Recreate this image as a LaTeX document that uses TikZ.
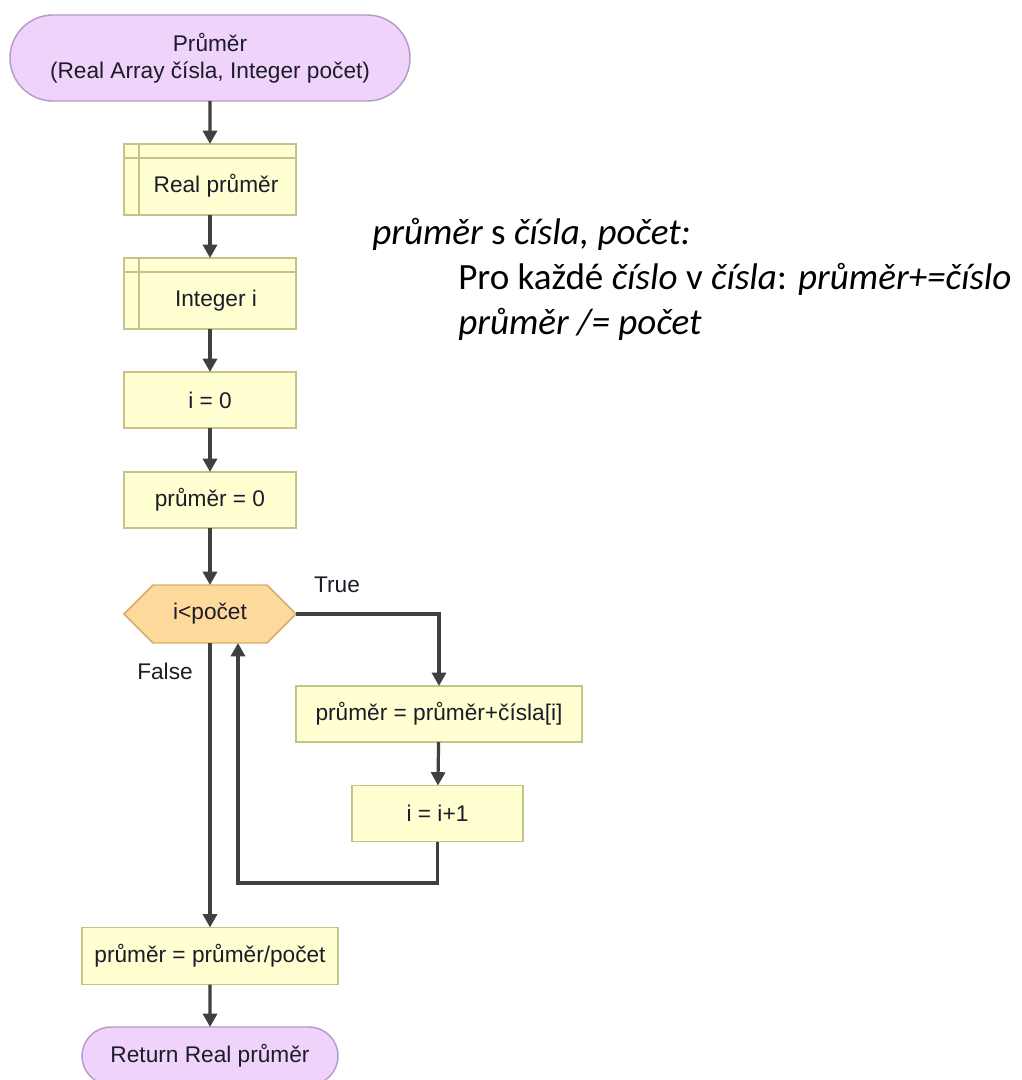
\documentclass[tikz,border=0pt]{standalone}
\usepackage{fontspec}
\setmainfont{Liberation Sans}
\newfontfamily\notefont{Carlito}
\usetikzlibrary{arrows.meta,shapes.misc,calc}

\definecolor{procfill}{HTML}{FFFFD2}
\definecolor{procline}{HTML}{C4C48A}
\definecolor{termfill}{HTML}{EFD3FA}
\definecolor{termline}{HTML}{B49CC6}
\definecolor{condfill}{HTML}{FDD99B}
\definecolor{condline}{HTML}{D6AE6C}
\definecolor{flowline}{HTML}{404040}
\definecolor{labeltext}{HTML}{1C1C28}

\tikzset{
  base/.style={font=\fontsize{17}{20.5}\selectfont, text=labeltext, inner sep=0pt, outer sep=0pt, align=center},
  procbox/.style={base, rectangle, draw=procline, fill=procfill, line width=1.1pt},
  declbox/.style={procbox},
  termbox/.style={base, rounded rectangle, draw=termline, fill=termfill, line width=1.1pt},
  condbox/.style={base, rectangle},
  flow/.style={draw=flowline, line width=2.4pt, -{Triangle[width=10.5pt,length=10pt]}},
  branchlabel/.style={font=\fontsize{17}{20}\selectfont, text=labeltext, inner sep=0pt},
  note/.style={font=\notefont\fontsize{27.8}{32}\selectfont, anchor=base west, inner sep=0pt}
}

\begin{document}
\begin{tikzpicture}[x=0.75pt, y=-0.75pt]
  \useasboundingbox (0,0) rectangle (1021,1080);
  \clip (0,0) rectangle (1021,1080);
  \fill[white] (0,0) rectangle (1021,1080);

  % start terminator
  \node[termbox, minimum width=300pt, minimum height=64.5pt] (start) at (210,58)
    {Průměr\\(Real Array čísla, Integer počet)};

  % declarations
  \node[declbox, minimum width=129pt, minimum height=53.25pt] (decl1) at (210,179.5) {};
  \node[base] at (216,186) {Real průměr};
  \draw[procline, line width=1.1pt] ($(decl1.north west)+(15,0)$) -- ($(decl1.south west)+(15,0)$)
        ($(decl1.north west)+(0,14)$) -- ($(decl1.north east)+(0,14)$);

  \node[declbox, minimum width=129pt, minimum height=53.25pt] (decl2) at (210,293.5) {};
  \node[base] at (216,301) {Integer i};
  \draw[procline, line width=1.1pt] ($(decl2.north west)+(15,0)$) -- ($(decl2.south west)+(15,0)$)
        ($(decl2.north west)+(0,14)$) -- ($(decl2.north east)+(0,14)$);

  % assignments
  \node[procbox, minimum width=129pt, minimum height=42pt] (init1) at (210,400) {i = 0};
  \node[procbox, minimum width=129pt, minimum height=42pt] (init2) at (210,500) {průměr = 0};

  % loop condition (hexagon)
  \node[condbox, minimum width=129pt, minimum height=43.5pt] (cond) at (210,614) {};
  \draw[condline, fill=condfill, line width=1.1pt]
    (cond.west) -- ($(cond.north west)+(29,0)$) -- ($(cond.north east)+(-29,0)$)
    -- (cond.east) -- ($(cond.south east)+(-29,0)$) -- ($(cond.south west)+(29,0)$) -- cycle;
  \node[base] at (cond) {i<počet};

  % loop body
  \node[procbox, minimum width=214.5pt, minimum height=42pt] (acc) at (439,714) {průměr = průměr+čísla[i]};
  \node[procbox, minimum width=128.25pt, minimum height=42pt] (inc) at (437.5,813.5) {i = i+1};

  % after the loop
  \node[procbox, minimum width=192pt, minimum height=42.75pt] (div) at (210,956) {průměr = průměr/počet};
  \node[termbox, minimum width=192pt, minimum height=43.5pt] (ret) at (210,1056) {Return Real průměr};

  % branch labels
  \node[branchlabel] (truelbl) at (337,585) {True};
  \node[branchlabel] (falselbl) at (165,671) {False};

  % connectors
  \draw[flow] (start) -- (decl1);
  \draw[flow] (decl1) -- (decl2);
  \draw[flow] (decl2) -- (init1);
  \draw[flow] (init1) -- (init2);
  \draw[flow] (init2) -- (cond);
  \draw[flow] (cond.east) -| (acc.north);
  \draw[flow] (acc) -- (inc);
  \coordinate (back) at (238,883);
  \draw[flow] (inc.south) |- (back) -- (back |- cond.south);
  \draw[flow] (cond.south) -- (div.north);
  \draw[flow] (div) -- (ret);

  % pseudocode note
  \node[note] (n1) at (372,245) {\itshape průměr\upshape{} s \itshape čísla, počet:};
  \node[note] (n2) at (458,290) {Pro každé \textit{číslo} v \textit{čísla}: \textit{průměr+=číslo}};
  \node[note] (n3) at (458,334) {\itshape průměr /= počet};
\end{tikzpicture}
\end{document}
